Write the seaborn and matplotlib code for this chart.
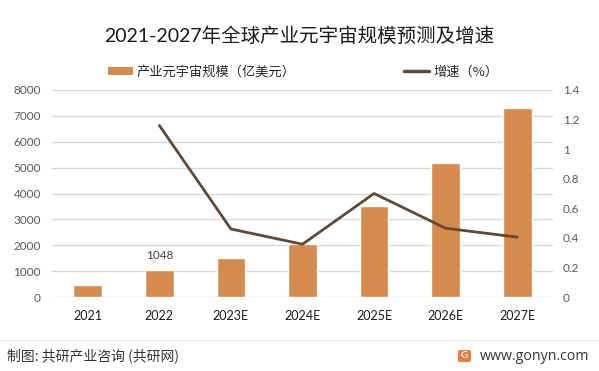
import matplotlib
matplotlib.use('Agg')
import matplotlib.pyplot as plt
from matplotlib.patches import Patch, FancyBboxPatch
from matplotlib.lines import Line2D
from matplotlib.ticker import MultipleLocator, FuncFormatter
import numpy as np
import pandas as pd
import seaborn as sns

# 数据
years = ['2021', '2022', '2023E', '2024E', '2025E', '2026E', '2027E']
scale = [465, 1048, 1510, 2055, 3525, 5190, 7315]          # 亿美元
growth_years = ['2022', '2023E', '2024E', '2025E', '2026E', '2027E']
growth = [1.16, 0.46, 0.357, 0.70, 0.465, 0.405]

bar_color = '#D48B4D'
line_color = '#654832'
grid_color = '#D9D9D9'

sns.set_theme(style='white')
plt.rcParams['font.family'] = ['Lato', 'Noto Sans CJK SC', 'DejaVu Sans']
cjk = ['Noto Sans CJK SC', 'DejaVu Sans']

df = pd.DataFrame({'year': years, 'scale': scale})
gdf = pd.DataFrame({'pos': [years.index(y) for y in growth_years], 'growth': growth})

fig = plt.figure(figsize=(5.99, 3.71), dpi=100)
ax = fig.add_axes([52 / 599, 1 - 297 / 371, (553 - 52) / 599, (297 - 90) / 371])

sns.barplot(data=df, x='year', y='scale', color=bar_color, saturation=1,
            width=0.4, ax=ax, zorder=3)
ax.set_xlim(-0.5, len(years) - 0.5)
ax.set_ylim(0, 8000)
ax.yaxis.set_major_locator(MultipleLocator(1000))
ax.grid(axis='y', color=grid_color, linewidth=1, zorder=0)
ax.set_axisbelow(True)
ax.set_xlabel('')
ax.set_ylabel('')
for s in ax.spines.values():
    s.set_visible(False)
ax.tick_params(axis='y', length=0, pad=8, labelsize=8.5, labelcolor='#595959')
ax.tick_params(axis='x', length=0, pad=9, labelsize=9, labelcolor='#1a1a1a')

# 数据标签
i22 = years.index('2022')
ax.text(i22, scale[i22] + 330, f'{scale[i22]}', ha='center', va='bottom',
        fontsize=8.5, color='#404040')

ax2 = ax.twinx()
sns.lineplot(data=gdf, x='pos', y='growth', color=line_color, linewidth=2,
             ax=ax2, zorder=4)
ax2.set_ylim(0, 1.4)
ax2.yaxis.set_major_locator(MultipleLocator(0.2))
ax2.yaxis.set_major_formatter(FuncFormatter(lambda v, p: f'{v:.1f}'.rstrip('0').rstrip('.')))
ax2.set_xlim(-0.5, len(years) - 0.5)
ax2.set_xlabel('')
ax2.set_ylabel('')
ax2.grid(False)
for s in ax2.spines.values():
    s.set_visible(False)
ax2.tick_params(axis='y', length=0, pad=7, labelsize=8.5, labelcolor='#595959')

# 标题
fig.text(0.5, 1 - 36 / 371, '2021-2027年全球产业元宇宙规模预测及增速', ha='center', va='center',
         fontsize=14, color='#1a1a1a')

# 图例
handles = [Patch(facecolor=bar_color, edgecolor='none'),
           Line2D([0], [0], color=line_color, linewidth=2.5)]
labels = ['产业元宇宙规模（亿美元）', '增速（%）']
fig.legend(handles, labels, loc='center left', bbox_to_anchor=(108 / 599, 1 - 72 / 371),
           ncol=2, frameon=False, borderpad=0, borderaxespad=0, handlelength=1.9,
           handleheight=0.5, handletextpad=0.3, columnspacing=8.2,
           prop={'family': cjk, 'size': 9.5}, labelcolor='#262626')

# 底部
fig.add_artist(Line2D([0, 1], [1 - 340 / 371] * 2, color='#EBEBEB', linewidth=1,
                      transform=fig.transFigure))
fig.text(7 / 599, 1 - 356 / 371, '制图: 共研产业咨询 (共研网)', ha='left', va='center',
         fontsize=10, color='#333333', family=cjk)
fig.add_artist(FancyBboxPatch((458 / 599, 1 - 362 / 371), 13 / 599, 12 / 371,
                              boxstyle='round,pad=0,rounding_size=0.004',
                              facecolor='#F07A3A', edgecolor='none',
                              transform=fig.transFigure))
fig.text(464.5 / 599, 1 - 356 / 371, 'G', ha='center', va='center', fontsize=7,
         color='white', fontweight='bold')
fig.text(480 / 599, 1 - 356 / 371, 'www.gonyn.com', ha='left', va='center',
         fontsize=10.2, color='#333333', family=['Open Sans', 'DejaVu Sans'])

fig.savefig('out.png', dpi=100)
